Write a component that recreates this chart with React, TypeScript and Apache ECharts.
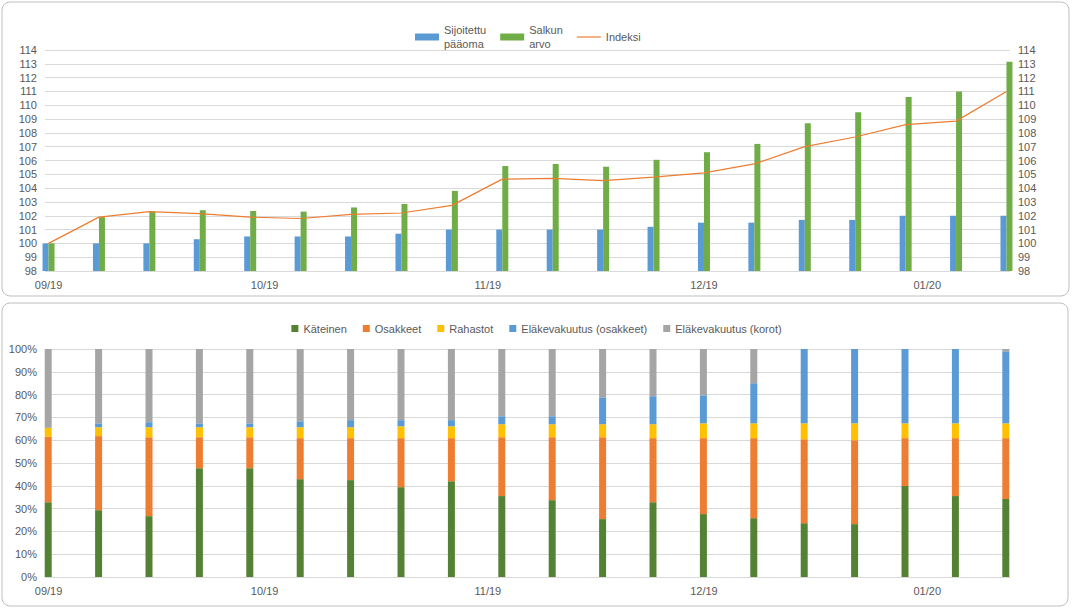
import React, { useEffect, useRef } from "react";
import * as echarts from "echarts";

// viikoittaiset päivämäärät
const dates = [
  "2019-09-01", "2019-09-08", "2019-09-15", "2019-09-22", "2019-09-29",
  "2019-10-06", "2019-10-13", "2019-10-20", "2019-10-27", "2019-11-03",
  "2019-11-10", "2019-11-17", "2019-11-24", "2019-12-01", "2019-12-08",
  "2019-12-15", "2019-12-22", "2019-12-29", "2020-01-05", "2020-01-12",
];
const monthTicks = ["2019-09-01", "2019-10-01", "2019-11-01", "2019-12-01", "2020-01-01"];

const sijoitettu = [100, 100, 100, 100.3, 100.5, 100.5, 100.5, 100.7, 101, 101, 101, 101, 101.2, 101.5, 101.5, 101.7, 101.7, 102, 102, 102];
const salkku = [100, 101.9, 102.3, 102.4, 102.35, 102.3, 102.6, 102.85, 103.8, 105.6, 105.75, 105.55, 106.05, 106.6, 107.2, 108.7, 109.5, 110.6, 111, 113.15];
const indeksi = [100, 101.9, 102.3, 102.15, 101.9, 101.8, 102.1, 102.2, 102.75, 104.65, 104.7, 104.55, 104.8, 105.1, 105.75, 107, 107.7, 108.6, 108.85, 111];

const kateinen = [32.8, 29.3, 26.7, 47.7, 47.7, 42.9, 42.5, 39.4, 42, 35.5, 33.7, 25.4, 32.8, 27.6, 25.8, 23.6, 23.2, 39.9, 35.5, 34.2];
const osakkeet = [28.7, 32.5, 34.6, 13.6, 13.6, 18, 18.4, 21.5, 18.9, 25.8, 27.6, 35.9, 28.1, 33.3, 35.1, 36.8, 36.8, 21, 25.4, 26.7];
const rahastot = [3.9, 3.9, 4.4, 4.4, 4.4, 4.8, 4.8, 5.2, 5.2, 5.7, 5.7, 5.7, 6.1, 6.5, 6.5, 7, 7.4, 6.5, 6.5, 6.5];
const elakeOsakkeet = [0, 1.7, 2.2, 1.7, 1.7, 2.6, 3.1, 2.7, 2.7, 3.5, 3.5, 11.8, 12.3, 12.3, 17.6, 32.6, 32.6, 32.6, 32.6, 31.6];
const elakeKorot = [34.6, 32.6, 32.1, 32.6, 32.6, 31.7, 31.2, 31.2, 31.2, 29.5, 29.5, 21.2, 20.7, 20.3, 15, 0, 0, 0, 0, 1];

const DAY = 86400000;
const start = Date.parse(dates[0]);
const dayOf = (d: string) => Math.round((Date.parse(d) - start) / DAY);
const xs = dates.map(dayOf);
const ticks = monthTicks.map(dayOf);
const tickLabel = (v: number) => {
  const d = new Date(start + v * DAY);
  const mm = String(d.getUTCMonth() + 1).padStart(2, "0");
  return mm + "/" + String(d.getUTCFullYear()).slice(2);
};
const pair = (arr: number[]) => arr.map((v, i) => [xs[i], v]);

const FONT = "Liberation Sans";
const TXT = "#595959";
const GRID = "#d9d9d9";

const App = () => {
  const ref = useRef<HTMLDivElement>(null);

  useEffect(() => {
    const chart = echarts.init(ref.current, null, { renderer: "svg" });
    const last = xs[xs.length - 1];
    const xAxisBase = {
      type: "value",
      min: -0.49,
      max: last + 0.49,
      axisLine: { show: true, lineStyle: { color: GRID } },
      axisTick: { show: false },
      splitLine: { show: false },
      axisLabel: {
        customValues: ticks,
        formatter: tickLabel,
        color: TXT,
        fontFamily: FONT,
        fontSize: 11,
        margin: 8,
      },
    };
    const yLabel = { color: TXT, fontFamily: FONT, fontSize: 11 };
    // pinotut palkit piilotetulle kategoria-akselille (viikot tasavälein)
    const stackBar = (name: string, data: number[], color: string) => ({
      name, type: "bar", stack: "s", xAxisIndex: 2, yAxisIndex: 3, data, barWidth: 7, itemStyle: { color },
    });
    chart.setOption({
      animation: false,
      backgroundColor: "#fff",
      graphic: [
        { type: "rect", shape: { x: 2, y: 2, width: 1067, height: 294, r: 8 }, style: { fill: "none", stroke: "#bfbfbf", lineWidth: 1 } },
        { type: "rect", shape: { x: 2, y: 303, width: 1066, height: 303, r: 8 }, style: { fill: "none", stroke: "#bfbfbf", lineWidth: 1 } },
      ],
      legend: [
        {
          data: [
            { name: "Sijoitettu\npääoma", icon: "rect" },
            { name: "Salkun\narvo", icon: "rect" },
            { name: "Indeksi", icon: "path://M0,3 L24,3 L24,4.2 L0,4.2 Z" },
          ],
          left: 410,
          top: 18,
          itemWidth: 24,
          itemHeight: 7,
          itemGap: 14,
          textStyle: { color: TXT, fontFamily: FONT, fontSize: 11, lineHeight: 14 },
        },
        {
          data: ["Käteinen", "Osakkeet", "Rahastot", "Eläkevakuutus (osakkeet)", "Eläkevakuutus (korot)"],
          left: "center",
          top: 318,
          itemWidth: 7,
          itemHeight: 7,
          itemGap: 16,
          icon: "rect",
          textStyle: { color: TXT, fontFamily: FONT, fontSize: 11 },
        },
      ],
      grid: [
        { left: 45, right: 63, top: 50, height: 221 },
        { left: 45, right: 63, top: 349, height: 228 },
        { left: 23, width: 1008, top: 349, height: 228 },
      ],
      xAxis: [
        { ...xAxisBase, gridIndex: 0 },
        { ...xAxisBase, gridIndex: 1 },
        { type: "category", gridIndex: 2, data: dates, show: false, boundaryGap: true },
      ],
      yAxis: [
        {
          gridIndex: 0, type: "value", min: 98, max: 114, interval: 1,
          axisLabel: yLabel, axisLine: { show: false }, axisTick: { show: false },
          splitLine: { lineStyle: { color: GRID } },
        },
        {
          gridIndex: 0, type: "value", position: "right", min: 98, max: 114, interval: 1,
          axisLabel: yLabel, axisLine: { show: false }, axisTick: { show: false },
          splitLine: { show: false },
        },
        {
          gridIndex: 1, type: "value", min: 0, max: 100, interval: 10,
          axisLabel: { ...yLabel, formatter: "{value}%" }, axisLine: { show: false }, axisTick: { show: false },
          splitLine: { lineStyle: { color: GRID } },
        },
        { gridIndex: 2, type: "value", min: 0, max: 100, show: false, splitLine: { show: false } },
      ],
      series: [
        { name: "Sijoitettu\npääoma", type: "bar", xAxisIndex: 0, yAxisIndex: 0, data: pair(sijoitettu), barWidth: 6, barGap: "0%", itemStyle: { color: "#5b9bd5" } },
        { name: "Salkun\narvo", type: "bar", xAxisIndex: 0, yAxisIndex: 0, data: pair(salkku), barWidth: 6, barGap: "0%", itemStyle: { color: "#70ad47" } },
        { name: "Indeksi", type: "line", xAxisIndex: 0, yAxisIndex: 0, data: pair(indeksi), symbol: "none", lineStyle: { color: "#ed7d31", width: 1.2 }, itemStyle: { color: "#ed7d31" } },
        stackBar("Käteinen", kateinen, "#548235"),
        stackBar("Osakkeet", osakkeet, "#ed7d31"),
        stackBar("Rahastot", rahastot, "#ffc000"),
        stackBar("Eläkevakuutus (osakkeet)", elakeOsakkeet, "#5b9bd5"),
        stackBar("Eläkevakuutus (korot)", elakeKorot, "#a5a5a5"),
      ],
    });
    return () => {
      chart.dispose();
    };
  }, []);

  return (
    <div
      ref={ref}
      style={{ position: "fixed", left: 0, top: 0, width: 1073, height: 609, background: "#fff" }}
    ></div>
  );
};

export default App;
